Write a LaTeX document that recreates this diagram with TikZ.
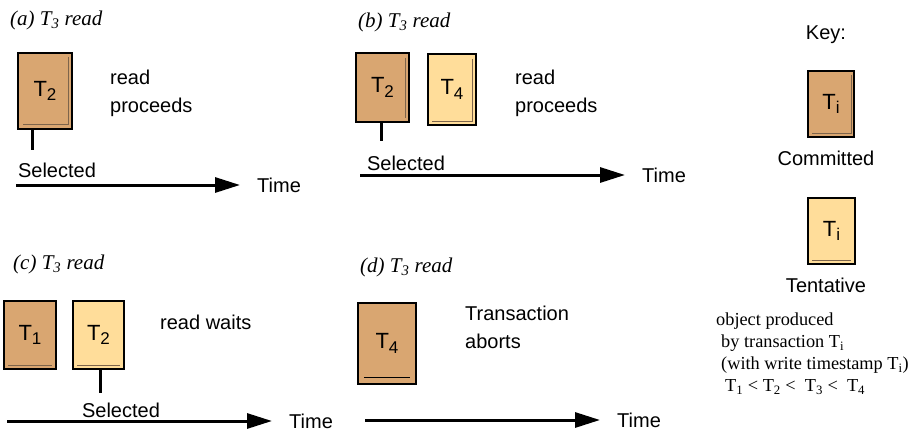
\documentclass[tikz,border=0pt]{standalone}
\usepackage{fontspec}
\setmainfont{Liberation Serif}
\setsansfont{Liberation Sans}
\usetikzlibrary{arrows.meta}
\definecolor{committed}{RGB}{217,166,113}
\definecolor{tentative}{RGB}{255,221,154}
\definecolor{foldline}{RGB}{125,100,75}
\newcommand{\tsub}[1]{T\raisebox{-0.4ex}{\fontsize{17}{17}\selectfont #1}}

\tikzset{
    sans/.style={font=\sffamily\fontsize{20}{28}\selectfont, inner sep=0pt},
    caption/.style={font=\rmfamily\itshape\fontsize{21}{24}\selectfont, anchor=west, inner sep=0pt},
    note/.style={sans, anchor=west, align=left},
    version/.style={draw, line width=2.5pt, inner sep=0pt, font=\sffamily\fontsize{22}{24}\selectfont},
    commit/.style={version, fill=committed},
    tent/.style={version, fill=tentative},
    fold/.style={draw=foldline, line width=0.8pt},
    stub/.style={line width=3pt},
    timeline/.style={line width=3pt, -{Triangle[length=25pt,width=15pt]}}
}

\begin{document}
\begin{tikzpicture}[x=1pt, y=-1pt]
    \useasboundingbox (0,0) rectangle (916,434);

    % (a)
    \node[caption] (capa) at (10,20) {(a) T\textsubscript{3} read};
    \node[commit, minimum width=54pt, minimum height=76pt] (a2) at (45,91) {\tsub{2}};
    \draw[fold] ([shift={(-5,5)}]a2.north east) -- ([shift={(-5,-6)}]a2.south east) -- ([shift={(6,-6)}]a2.south west);
    \node[note] (ra) at (110,93) {read\\proceeds};
    \node[sans] (sela) at (57,170) {Selected};
    \coordinate (pa) at (32,150);
    \draw[stub] (a2.south -| pa) -- (pa);

    % (b)
    \node[caption] (capb) at (358,22) {(b) T\textsubscript{3} read};
    \node[commit, minimum width=53pt, minimum height=69pt] (b2) at (382.5,87.5) {\tsub{2}};
    \node[tent, minimum width=48pt, minimum height=71pt] (b4) at (452,89.5) {\tsub{4}};
    \draw[fold] ([shift={(-5,6)}]b2.north east) -- ([shift={(-5,-5)}]b2.south east);
    \draw[fold] ([shift={(-5,6)}]b4.north east) -- ([shift={(-5,-5)}]b4.south east) -- ([shift={(5,-5)}]b4.south west);
    \node[note] (rb) at (515,93) {read\\proceeds};
    \node[sans] (selb) at (406,163) {Selected};
    \coordinate (pb) at (381,141);
    \draw[stub] (b2.south -| pb) -- (pb);

    % (c)
    \node[caption] (capc) at (13,264) {(c) T\textsubscript{3} read};
    \node[commit, minimum width=52pt, minimum height=68pt] (c1) at (30,335) {\tsub{1}};
    \node[tent, minimum width=51pt, minimum height=68pt] (c2) at (98.5,335) {\tsub{2}};
    \draw[fold] ([shift={(5,-5)}]c1.south west) -- ([shift={(-5,-5)}]c1.south east);
    \draw[fold] ([shift={(5,-5)}]c2.south west) -- ([shift={(-5,-5)}]c2.south east);
    \node[note] (rc) at (160,322) {read waits};
    \node[sans] (selc) at (121,410) {Selected};
    \coordinate (pc) at (100,393);
    \draw[stub] (c2.south -| pc) -- (pc);

    % (d)
    \node[caption] (capd) at (360,267) {(d) T\textsubscript{3} read};
    \node[commit, minimum width=58pt, minimum height=81pt] (d4) at (387,343.5) {\tsub{4}};
    \draw[line width=1pt] ([shift={(7,-8)}]d4.south west) -- ([shift={(-7,-8)}]d4.south east);
    \node[note] (rd) at (465,327) {Transaction\\aborts};

    % time axes
    \foreach \n/\xa/\xb/\y in {a/16/240/185, b/360/625/175, c/7/272/421, d/365/600/420} {
        \coordinate (t\n0) at (\xa,\y);
        \coordinate (t\n1) at (\xb,\y);
        \draw[timeline] (t\n0) -- (t\n1);
        \node[sans, anchor=west] (time\n) at (\xb+17,\y) {Time};
    }

    % key
    \node[sans] (key) at (826,35) {Key:};
    \node[commit, minimum width=46pt, minimum height=66pt] (kc) at (831,104) {\tsub{i}};
    \draw[fold] ([shift={(-4,5)}]kc.north east) -- ([shift={(-4,-5)}]kc.south east) -- ([shift={(5,-5)}]kc.south west);
    \node[sans] (lc) at (826,158) {Committed};
    \node[tent, minimum width=47pt, minimum height=66pt] (kt) at (831.5,231) {\tsub{i}};
    \draw[fold] ([shift={(5,-5)}]kt.south west) -- ([shift={(-5,-5)}]kt.south east);
    \node[sans] (lt) at (826,285) {Tentative};
    \node[anchor=north west, align=left, inner sep=0pt, font=\rmfamily\fontsize{18.3}{22}\selectfont] (expl) at (716,313)
        {object produced\\
         \hspace*{5pt}by transaction T\textsubscript{i}\\
         \hspace*{5pt}(with write timestamp T\textsubscript{i})\\
         \hspace*{9pt}T\textsubscript{1} < T\textsubscript{2} <\ \ T\textsubscript{3} <\ \ T\textsubscript{4}};
\end{tikzpicture}
\end{document}
